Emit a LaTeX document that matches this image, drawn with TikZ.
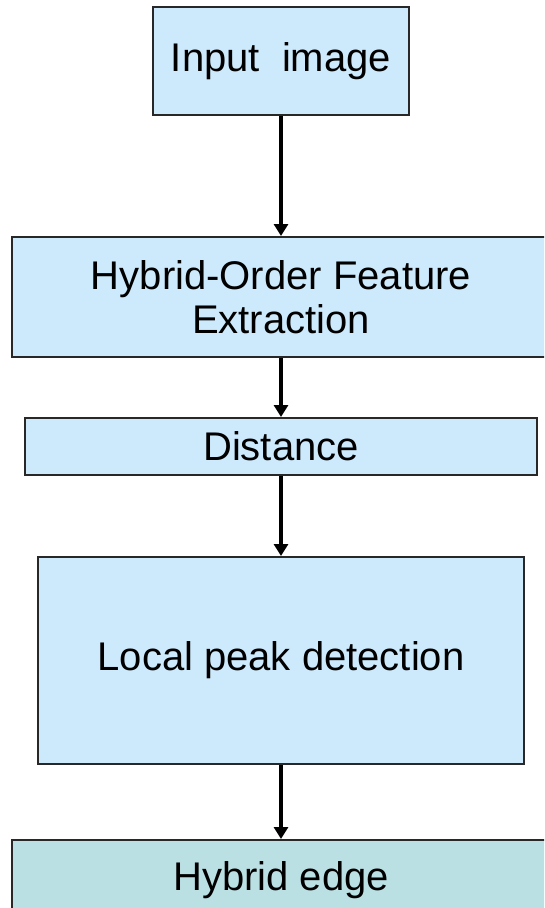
\documentclass[tikz,border=0pt]{standalone}
\usepackage{fontspec}
\setmainfont{Liberation Sans}
\usetikzlibrary{arrows.meta}

\definecolor{stepfill}{RGB}{204,234,252}
\definecolor{endfill}{RGB}{187,224,228}
\definecolor{boxline}{RGB}{40,40,40}

\tikzset{
  stagebox/.style={draw=boxline, line width=2pt, fill=stepfill, inner sep=0pt,
    align=center, font=\fontsize{40}{44}\selectfont},
  resultbox/.style={stagebox, fill=endfill},
  flow/.style={line width=3.2pt, -{Triangle[width=14pt,length=12pt]}}
}

\begin{document}
\begin{tikzpicture}[x=1pt, y=-1pt]
  \fill[white] (0,0) rectangle (544,908);
  \useasboundingbox (0,0) rectangle (544,908);
  \clip (0,0) rectangle (544,908);

  \node[stagebox, minimum width=256pt, minimum height=108pt] (input) at (281,61) {Input~~image};
  \node[stagebox, minimum width=538pt, minimum height=120pt] (feature) at (281,297)
    {Hybrid-Order Feature\\Extraction};
  \node[stagebox, minimum width=512pt, minimum height=57pt] (dist) at (281,446.5) {Distance};
  \node[stagebox, minimum width=486pt, minimum height=207pt] (peak) at (281,660.5) {Local peak detection};
  \node[resultbox, minimum width=538pt, minimum height=80pt] (edge) at (281,880) {Hybrid edge};

  \draw[flow] (input.south) -- (feature.north);
  \draw[flow] (feature.south) -- (dist.north);
  \draw[flow] (dist.south) -- (peak.north);
  \draw[flow] (peak.south) -- (edge.north);
\end{tikzpicture}
\end{document}
